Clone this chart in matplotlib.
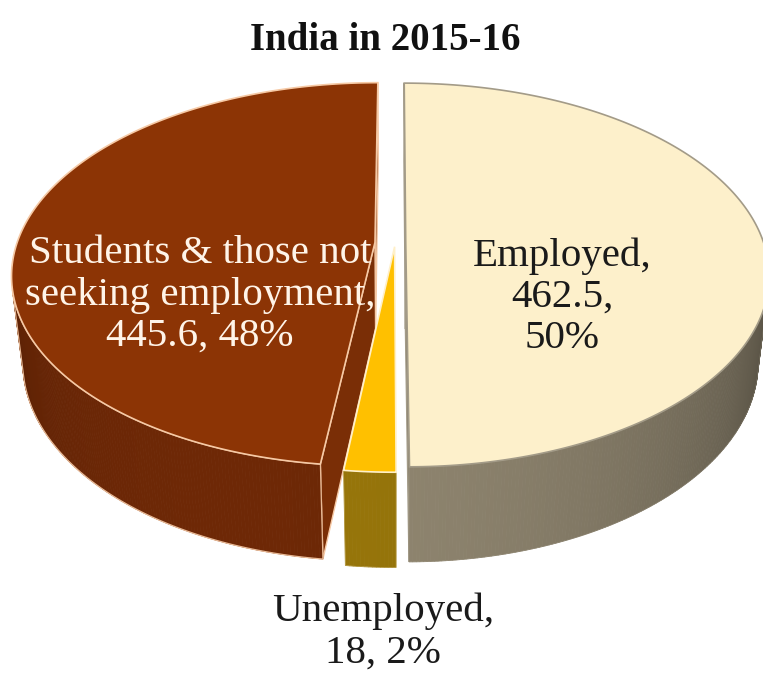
import numpy as np
import matplotlib.pyplot as plt
from matplotlib.patches import Polygon

# slices, clockwise from 12 o'clock
names = ['Employed', 'Unemployed', 'Students & those not\nseeking employment']
values = [462.5, 18, 445.6]
top_colors = ['#FDF0CB', '#FFC000', '#8C3405']
side_colors = ['#908670', '#98760A', '#6E2806']
face_colors = ['#7A7260', '#8A6A08', '#7A2E06']
edge_colors = ['#A39B88', '#FFF0C8', '#F6C9A5']
label_colors = ['#1A1A1A', '#1A1A1A', '#FFF4E8']
explode = [0.03, 0.02, 0.056]

total = sum(values)
pcts = [round(100 * v / total) for v in values]
label_texts = [
    f'{names[0]},\n{values[0]:g},\n{pcts[0]}%',
    f'{names[1]},\n{values[1]:g}, {pcts[1]}%',
    f'{names[2]},\n{values[2]:g}, {pcts[2]}%',
]
label_pos = [(562, 297), (383, 632), (200, 295)]

# camera / disc geometry (disc radius = 1)
dist = 5.12
tilt = np.radians(31.4)
focal = 1833
cx, cy = 395, 243
thick = 0.29
cam = np.array([0.0, -dist * np.cos(tilt), dist * np.sin(tilt)])


def project(x, y, z):
    d = dist + y * np.cos(tilt) - z * np.sin(tilt)
    return cx + focal * x / d, cy - focal * (y * np.sin(tilt) + z * np.cos(tilt)) / d


def shade(theta):
    return 0.65 + 0.35 * np.cos(np.radians(theta + 110))


def scaled(color, k):
    rgb = np.array(plt.matplotlib.colors.to_rgb(color))
    return tuple(np.clip(rgb * k, 0, 1))


fracs = np.array(values) / total
ends = 90 - 360 * np.cumsum(fracs)
starts = np.r_[90, ends[:-1]]

fig = plt.figure(figsize=(7.63, 6.76), dpi=100)
ax = fig.add_axes([0, 0, 1, 1])
ax.set_xlim(0, 763)
ax.set_ylim(676, 0)
ax.axis('off')

faces, walls, tops = [], [], []
for i in range(len(values)):
    a0, a1 = starts[i], ends[i]
    mid = np.radians((a0 + a1) / 2)
    ox, oy = explode[i] * np.cos(mid), explode[i] * np.sin(mid)

    # radial cut faces
    for a, nsign in ((a0, 1), (a1, -1)):
        t = np.radians(a)
        n = np.array([np.cos(t + nsign * np.pi / 2), np.sin(t + nsign * np.pi / 2), 0])
        p = np.array([ox, oy, 0])
        if n @ (cam - p) <= 0:
            continue
        rx, ry = ox + np.cos(t), oy + np.sin(t)
        pts = [project(ox, oy, 0), project(rx, ry, 0),
               project(rx, ry, -thick), project(ox, oy, -thick)]
        depth = np.linalg.norm(cam - np.array([ox + np.cos(t) / 2, oy + np.sin(t) / 2, -thick / 2]))
        faces.append((depth, pts, face_colors[i], edge_colors[i]))

    # outer wall, only the part facing the camera
    th = np.linspace(a0, a1, max(int(abs(a1 - a0) / 0.5), 2) + 1)
    vis = []
    for t0, t1 in zip(th[:-1], th[1:]):
        tm = np.radians((t0 + t1) / 2)
        n = np.array([np.cos(tm), np.sin(tm), 0])
        p = np.array([ox + np.cos(tm), oy + np.sin(tm), 0])
        if n @ (cam - p) > 0:
            vis.append((t0, t1))
    if vis:
        walls.append((i, ox, oy, vis))

    arc = np.radians(np.linspace(a0, a1, 200))
    top = [project(ox, oy, 0)] + [project(ox + np.cos(t), oy + np.sin(t), 0) for t in arc]
    tops.append((top, top_colors[i], edge_colors[i]))

for depth, pts, fc, ec in sorted(faces, key=lambda f: -f[0]):
    ax.add_patch(Polygon(pts, closed=True, facecolor=fc, edgecolor=ec, lw=1.0, zorder=1))

for i, ox, oy, vis in walls:
    for t0, t1 in vis:
        r0, r1 = np.radians(t0), np.radians(t1)
        quad = [project(ox + np.cos(r0), oy + np.sin(r0), 0),
                project(ox + np.cos(r1), oy + np.sin(r1), 0),
                project(ox + np.cos(r1), oy + np.sin(r1), -thick),
                project(ox + np.cos(r0), oy + np.sin(r0), -thick)]
        c = scaled(side_colors[i], shade((t0 + t1) / 2))
        ax.add_patch(Polygon(quad, closed=True, facecolor=c, edgecolor=c, lw=0.6, zorder=2))
    # outline around the wall
    t_lo, t_hi = vis[0][0], vis[-1][1]
    rr = np.radians(np.linspace(t_lo, t_hi, 100))
    outline = [project(ox + np.cos(t), oy + np.sin(t), 0) for t in rr] + \
              [project(ox + np.cos(t), oy + np.sin(t), -thick) for t in rr[::-1]]
    ax.add_patch(Polygon(outline, closed=True, fill=False, edgecolor=edge_colors[i],
                         lw=0.9 if i == 2 else 0.4, alpha=0.9 if i == 2 else 0.4, zorder=3))

for pts, fc, ec in tops:
    ax.add_patch(Polygon(pts, closed=True, facecolor=fc, edgecolor=ec, lw=1.2, zorder=4))

ax.text(385, 40, 'India in 2015-16', ha='center', va='center', fontsize=28,
        fontweight='bold', family='Liberation Serif', color='#111111', zorder=6)

for txt, (lx, ly), col in zip(label_texts, label_pos, label_colors):
    ax.text(lx, ly, txt, ha='center', va='center', fontsize=29.5, family='Liberation Serif',
            color=col, linespacing=1.15, zorder=6)

fig.savefig('out.png', dpi=100)
